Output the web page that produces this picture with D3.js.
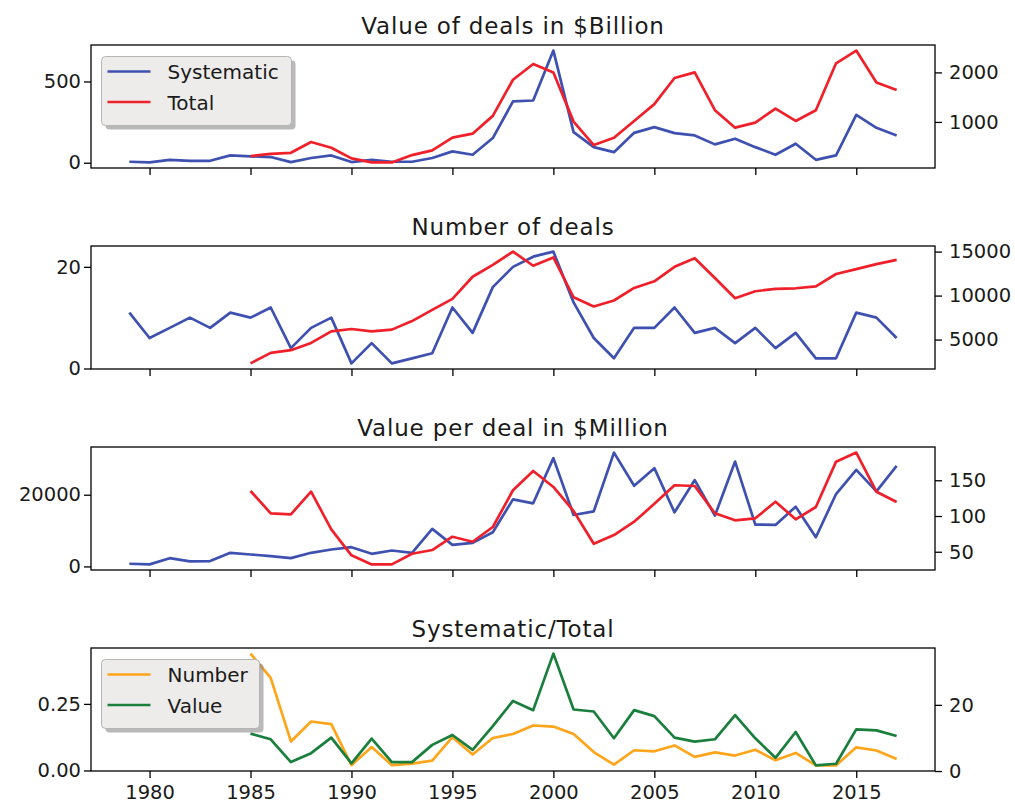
<!DOCTYPE html>
<html>
<head>
<meta charset="utf-8">
<script src="https://cdn.jsdelivr.net/npm/d3@7"></script>
<style>
  body { margin: 0; background: #fff; }
  text { font-family: "DejaVu Sans", sans-serif; fill: #1a1a1a; }
</style>
</head>
<body>
<script>
const years = [1979,1980,1981,1982,1983,1984,1985,1986,1987,1988,1989,1990,1991,1992,1993,1994,1995,1996,1997,1998,
    1999,2000,2001,2002,2003,2004,2005,2006,2007,2008,2009,2010,2011,2012,2013,2014,2015,2016,2017];
// totals only start in 1985
const totalYears = years.filter(function(y) { return y >= 1985; });

const sysValue = [6,2,18,12,12,45,39,35,4,29,45,4,18,6,6,29,70,49,152,377,
    383,690,188,96,65,184,219,182,168,113,148,96,49,117,18,45,295,215,168];
const totValue = [310,357,377,594,479,264,183,183,331,426,682,763,1122,1852,
    2170,2000,1006,533,682,1020,1359,1886,2000,1237,884,986,1270,1020,1237,2183,2440,1797,1643];

const sysCount = [11,6,8,10,8,11,10,12,4,8,10,1,5,1,2,3,12,7,16,20,
    22,23,13,6,2,8,8,12,7,8,5,8,4,7,2,2,11,10,6];
const totCount = [2290,3490,3790,4620,5940,6200,5940,6130,7100,8380,9630,12140,13500,15000,
    13390,14330,9810,8760,9440,10870,11620,13270,14250,12000,9700,10490,10760,10830,11050,12450,13010,13580,14060];

const sysPerDeal = [750,560,2300,1390,1480,3800,3330,2870,2300,3800,4720,5370,3520,4440,3800,10460,6020,6570,9540,18700,
    17600,30200,14350,15360,31750,22500,27400,15080,24080,14170,29250,11670,11580,16670,8140,20190,26940,20920,28060];
const totPerDeal = [135,103.8,102.4,134,81.4,45,32.3,32.3,47.2,52.4,71,64,84.6,136,
    163,140.6,107,61.2,73.4,92,117,143,142,103.8,94,96.8,120,95.4,112.6,176,188.7,134,119.6];

const numberRatio = [0.439,0.348,0.109,0.184,0.174,0.02,0.088,0.02,0.026,0.037,0.125,0.06,0.122,0.137,
    0.169,0.165,0.137,0.069,0.022,0.076,0.072,0.094,0.051,0.068,0.056,0.078,0.038,0.066,0.019,0.019,0.087,0.075,0.043];
const valueRatio = [11.3,9.6,2.7,5.4,10.1,2.3,9.8,2.7,2.7,7.9,10.9,6.4,13.6,21.2,
    18.4,35.5,18.6,18,9.9,18.4,16.6,10.1,8.9,9.6,16.9,9.9,4,11.8,1.7,2.2,12.6,12.3,10.6];

const titles = ["Value of deals in $Billion", "Number of deals", "Value per deal in $Million", "Systematic/Total"];
const leftTicks = [[0, 500], [0, 20], [0, 20000], [0, 0.25]];
const rightTicks = [[1000, 2000], [5000, 10000, 15000], [50, 100, 150], [0, 20]];
const xTicks = [1980, 1985, 1990, 1995, 2000, 2005, 2010, 2015];

const width = 1015, height = 800;
const left = 91, right = 935;
const panelTop = [45, 246, 447, 648], panelH = 123;

const BLUE = "#3f51b0", RED = "#f0202a", ORANGE = "#ffa51c", GREEN = "#1a7f3c";

const panels = [
    {left: {x: years, y: sysValue, color: BLUE}, right: {x: totalYears, y: totValue, color: RED},
     legend: [["Systematic", BLUE], ["Total", RED]], lw: 190},
    {left: {x: years, y: sysCount, color: BLUE}, right: {x: totalYears, y: totCount, color: RED}},
    {left: {x: years, y: sysPerDeal, color: BLUE}, right: {x: totalYears, y: totPerDeal, color: RED}},
    {left: {x: totalYears, y: numberRatio, color: ORANGE}, right: {x: totalYears, y: valueRatio, color: GREEN},
     legend: [["Number", ORANGE], ["Value", GREEN]], lw: 158}
];

// matplotlib style 5% margins
function padded(vals) {
    var ext = d3.extent(vals), m = (ext[1] - ext[0]) * 0.05;
    return [ext[0] - m, ext[1] + m];
}

const x = d3.scaleLinear().domain(padded(years)).range([left, right]);

const svg = d3.select("body").append("svg")
    .attr("width", width)
    .attr("height", height);

panels.forEach(function(p, i) {
    var top = panelTop[i], bottom = top + panelH;
    var yL = d3.scaleLinear().domain(padded(p.left.y)).range([bottom, top]);
    var yR = d3.scaleLinear().domain(padded(p.right.y)).range([bottom, top]);

    var g = svg.append("g");

    [[p.left, yL], [p.right, yR]].forEach(function(s) {
        var line = d3.line()
            .x(function(d, j) { return x(s[0].x[j]); })
            .y(function(d) { return s[1](d); });
        g.append("path")
            .attr("d", line(s[0].y))
            .attr("fill", "none")
            .attr("stroke", s[0].color)
            .attr("stroke-width", 2.7)
            .attr("stroke-linejoin", "round");
    });

    // frame
    g.append("rect")
        .attr("x", left).attr("y", top)
        .attr("width", right - left).attr("height", panelH)
        .attr("fill", "none").attr("stroke", "#000").attr("stroke-width", 1.3);

    var fmtL = i == 3 ? d3.format(".2f") : d3.format("d");
    var axL = g.append("g").attr("transform", "translate(" + left + ",0)")
        .call(d3.axisLeft(yL).tickValues(leftTicks[i]).tickSize(7).tickPadding(3).tickFormat(fmtL));
    var axR = g.append("g").attr("transform", "translate(" + right + ",0)")
        .call(d3.axisRight(yR).tickValues(rightTicks[i]).tickSize(7).tickPadding(7).tickFormat(d3.format("d")));
    var axB = g.append("g").attr("transform", "translate(0," + bottom + ")")
        .call(d3.axisBottom(x).tickValues(xTicks).tickSize(7).tickPadding(7).tickFormat(d3.format("d")));
    if (i < 3) axB.selectAll("text").remove();

    [axL, axR, axB].forEach(function(a) {
        a.select(".domain").remove();
        a.selectAll("line").attr("stroke", "#000").attr("stroke-width", 1.3);
        a.selectAll("text").attr("font-size", 19.5).attr("font-family", "DejaVu Sans").attr("fill", "#1a1a1a");
    });

    svg.append("text")
        .attr("x", (left + right) / 2)
        .attr("y", top - 11.5)
        .attr("text-anchor", "middle")
        .attr("font-size", 23)
        .attr("letter-spacing", 0.85)
        .text(titles[i]);

    if (p.legend) {
        var lx = 101.5, ly = top + 11.5, lh = 69;
        var lg = svg.append("g");
        lg.append("rect")
            .attr("x", lx + 4).attr("y", ly + 4)
            .attr("width", p.lw).attr("height", lh).attr("rx", 4)
            .attr("fill", "#8a8a8a").attr("opacity", 0.6);
        lg.append("rect")
            .attr("x", lx).attr("y", ly)
            .attr("width", p.lw).attr("height", lh).attr("rx", 4)
            .attr("fill", "#edecea").attr("stroke", "#b5b5b5").attr("stroke-width", 1);
        p.legend.forEach(function(item, k) {
            var yy = ly + 15 + k * 30.5;
            lg.append("line")
                .attr("x1", lx + 6).attr("x2", lx + 49)
                .attr("y1", yy).attr("y2", yy)
                .attr("stroke", item[1]).attr("stroke-width", 2.7);
            lg.append("text")
                .attr("x", lx + 66).attr("y", yy + 7.5)
                .attr("font-size", 20)
                .text(item[0]);
        });
    }
});
</script>
</body>
</html>
